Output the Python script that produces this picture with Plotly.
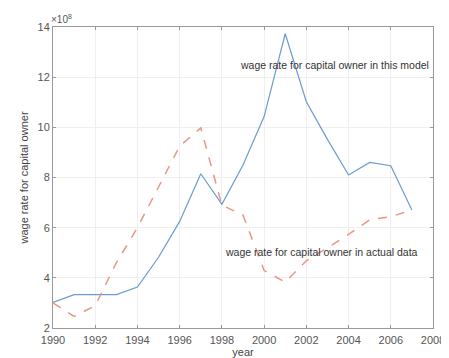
import plotly.graph_objects as go

years = list(range(1990, 2008))
model = [3.02, 3.33, 3.33, 3.33, 3.63, 4.82, 6.25, 8.15, 6.93, 8.5, 10.43, 13.73, 11.02, 9.52, 8.1, 8.6, 8.47, 6.7]
actual = [3.0, 2.46, 2.89, 4.6, 6.0, 7.62, 9.25, 9.98, 6.9, 6.5, 4.29, 3.83, 4.68, 5.2, 5.73, 6.31, 6.44, 6.7]
x_ticks = [1990, 1992, 1994, 1996, 1998, 2000, 2002, 2004, 2006, 2008]
y_ticks = [2, 4, 6, 8, 10, 12, 14]
label_model = "wage rate for capital owner in this model"
label_actual = "wage rate for capital owner in actual data"

fig = go.Figure()
fig.add_trace(go.Scatter(x=years, y=model, mode="lines",
                         line=dict(color="#6a9bd1", width=1.2), showlegend=False))
fig.add_trace(go.Scatter(x=years, y=actual, mode="lines",
                         line=dict(color="#eb9585", width=1.5, dash="dash"), showlegend=False))

fig.add_annotation(x=1998.75, y=12.5, text=label_model, showarrow=False,
                   xanchor="left", yanchor="middle", font=dict(size=10.5, color="#333333"))
fig.add_annotation(x=1998.05, y=5.02, text=label_actual, showarrow=False,
                   xanchor="left", yanchor="middle", font=dict(size=10.5, color="#333333"))
fig.add_annotation(xref="paper", yref="paper", x=-0.01, y=1.0, text="×10<sup>8</sup>",
                   showarrow=False, xanchor="left", yanchor="bottom",
                   font=dict(size=10, color="#555555"))

axis_common = dict(showline=True, linecolor="#999999", linewidth=1, mirror="ticks",
                   ticks="inside", ticklen=3, tickcolor="#999999",
                   showgrid=True, gridcolor="#efefef", zeroline=False,
                   tickfont=dict(size=11, color="#555555"))

fig.update_xaxes(range=[1990, 2008], tickvals=x_ticks, ticklabelstandoff=2,
                 title=dict(text="year", font=dict(size=11, color="#444444"), standoff=0),
                 **axis_common)
fig.update_yaxes(range=[2, 14], tickvals=y_ticks,
                 title=dict(text="wage rate for capital owner", font=dict(size=11, color="#444444"), standoff=6),
                 **axis_common)

fig.update_layout(width=449, height=358, margin=dict(l=45, r=17, t=19, b=33),
                  paper_bgcolor="white", plot_bgcolor="white",
                  font=dict(family="Liberation Sans, Arial, sans-serif"))

fig.write_html("out.html")
